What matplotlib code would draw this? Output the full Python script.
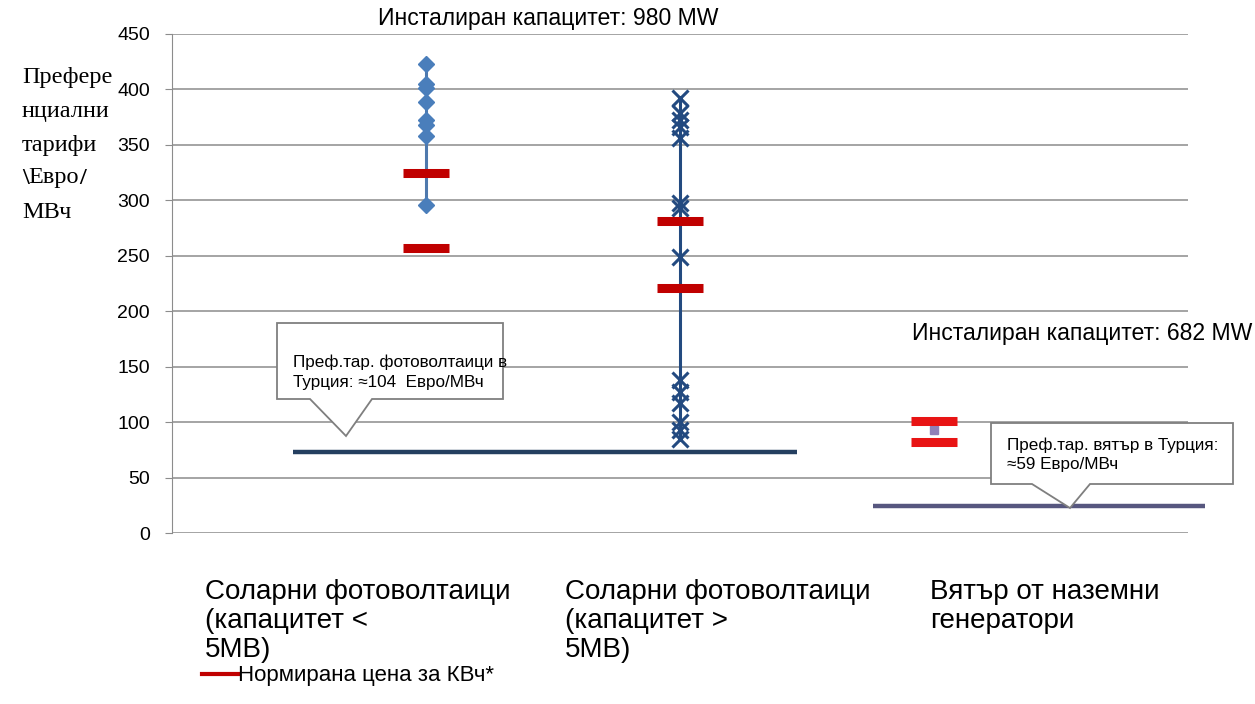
import matplotlib
matplotlib.use("Agg")
import matplotlib.pyplot as plt
from matplotlib.lines import Line2D
from matplotlib.patches import Polygon

plt.rcParams['font.family'] = ['Liberation Sans', 'DejaVu Sans']

# ---- data ----
categories = ["Соларни фотоволтаици\n(капацитет <\n5МВ)",
              "Соларни фотоволтаици\n(капацитет >\n5МВ)",
              "Вятър от наземни\nгенератори"]
cat_x = [0.75, 1.5, 2.25]
solar_small_tariffs = [423, 405, 401, 389, 372, 368, 358, 296]
solar_large_tariffs = [392, 379, 372, 366, 356, 298, 293, 249, 138, 127, 117, 100, 93, 85]
solar_small_lcoe = [325, 257]
solar_large_lcoe = [281, 221]
wind_lcoe = [101, 82]
wind_tariff = [93]
turkey_solar = 73
turkey_wind = 24
yticks = [0, 50, 100, 150, 200, 250, 300, 350, 400, 450]

W, H = 1255, 704
fig = plt.figure(figsize=(W / 100, H / 100), dpi=100)
L, R, T, B = 172, 1188, 34, 533
ax = fig.add_axes([L / W, 1 - B / H, (R - L) / W, (B - T) / H])
ax.set_xlim(0, 3)
ax.set_ylim(0, 450)
ax.set_yticks(yticks)
ax.set_xticks([])
ax.yaxis.grid(True, color='#8c8c8c', lw=1.1)
ax.set_axisbelow(True)
for s in ['top', 'right', 'bottom']:
    ax.spines[s].set_visible(False)
ax.spines['left'].set_color('#8c8c8c')
ax.tick_params(axis='y', length=5, color='#8c8c8c', labelsize=14, pad=11)

# Turkey reference lines
ax.hlines(turkey_solar, 0.357, 1.846, color='#243F60', lw=3.2, zorder=3)
ax.hlines(turkey_wind, 2.07, 3.05, color='#57577f', lw=3.2, zorder=3, clip_on=False)

# solar < 5MW
ax.plot([cat_x[0]] * 2, [min(solar_small_tariffs), max(solar_small_tariffs)],
        color='#4F79AD', lw=2.2, zorder=4)
ax.plot([cat_x[0]] * len(solar_small_tariffs), solar_small_tariffs, 'D',
        color='#4A7EBB', ms=8.5, zorder=5, ls='none')
# solar > 5MW
ax.plot([cat_x[1]] * 2, [min(solar_large_tariffs), max(solar_large_tariffs)],
        color='#234A80', lw=2.2, zorder=4)
ax.plot([cat_x[1]] * len(solar_large_tariffs), solar_large_tariffs, 'x',
        color='#234A80', ms=11, mew=2.2, zorder=5, ls='none')
# wind
ax.plot([cat_x[2]] * len(wind_tariff), wind_tariff, 's', color='#9080B8',
        ms=6, zorder=4, ls='none')

# red LCOE bars
hw = 0.068
bar_cols = ['#C00000', '#C00000', '#E81414']
for cx, vals, bc in zip(cat_x, [solar_small_lcoe, solar_large_lcoe, wind_lcoe], bar_cols):
    ax.hlines(vals, cx - hw, cx + hw, color=bc, lw=6.5, zorder=6)

# callouts
def callout(x0, x1, y0, y1, p0, ptip, p1, lines, tx, ty):
    pts = [(x0, y0), (x1, y0), (x1, y1), (p1, y1), ptip, (p0, y1), (x0, y1)]
    poly = Polygon([(px / W, 1 - py / H) for px, py in pts], closed=True,
                   transform=fig.transFigure, fc='white', ec='#7f7f7f', lw=1.3, zorder=10)
    fig.add_artist(poly)
    for i, ln in enumerate(lines.split('\n')):
        fig.text(tx / W, 1 - (ty + 20 * i) / H, ln, fontsize=12.3, va='center',
                 ha='left', zorder=11)

callout(277, 503, 323, 399, 310, (346, 436), 372,
        "Преф.тар. фотоволтаици в\nТурция: ≈104  Евро/МВч", 293, 362)
callout(991, 1233, 423, 484, 1032, (1070, 508), 1090,
        "Преф.тар. вятър в Турция:\n≈59 Евро/МВч", 1007, 445)

# titles
fig.text(548 / W, 1 - 19 / H, "Инсталиран капацитет: 980 MW", fontsize=16.6,
         ha='center', va='center')
fig.text(1252 / W, 1 - 334 / H, "Инсталиран капацитет: 682 MW", fontsize=16.6,
         ha='right', va='center')

# y label
ylab_fs = 17.5
ylab_lines = ["Префере", "нциални", "тарифи", None, "МВч"]
ylab_y = [77, 111, 145, 178, 213]
for ln, yy in zip(ylab_lines, ylab_y):
    if ln is not None:
        fig.text(22 / W, 1 - yy / H, ln, fontsize=ylab_fs, family='Liberation Serif',
                 ha='left', va='center')
t1 = fig.text(22 / W, 1 - 178 / H, "\\", fontsize=ylab_fs, family='Liberation Serif',
              weight='bold', ha='left', va='center')
fig.canvas.draw()
bb = t1.get_window_extent()
t2 = fig.text(bb.x1 / fig.bbox.width, 1 - 178 / H, "Евро", fontsize=ylab_fs,
              family='Liberation Serif', ha='left', va='center')
fig.canvas.draw()
bb2 = t2.get_window_extent()
fig.text(bb2.x1 / fig.bbox.width, 1 - 178 / H, "/", fontsize=ylab_fs,
         family='Liberation Serif', weight='bold', ha='left', va='center')

# category labels
cat_line_y = [592, 621, 650]
for lx, lab in zip([205, 565, 930], categories):
    for ln, yy in zip(lab.split('\n'), cat_line_y):
        fig.text(lx / W, 1 - yy / H, ln, fontsize=20, ha='left', va='center')

# legend
ax.legend(handles=[Line2D([], [], color='#C00000', lw=3)],
          labels=["Нормирана цена за КВч*"], frameon=False, fontsize=16,
          loc='center left', bbox_to_anchor=(202 / W, 1 - 676 / H),
          bbox_transform=fig.transFigure, handlelength=1.6, handletextpad=0.0,
          borderpad=0, borderaxespad=0)

fig.savefig("out.png", dpi=100)
